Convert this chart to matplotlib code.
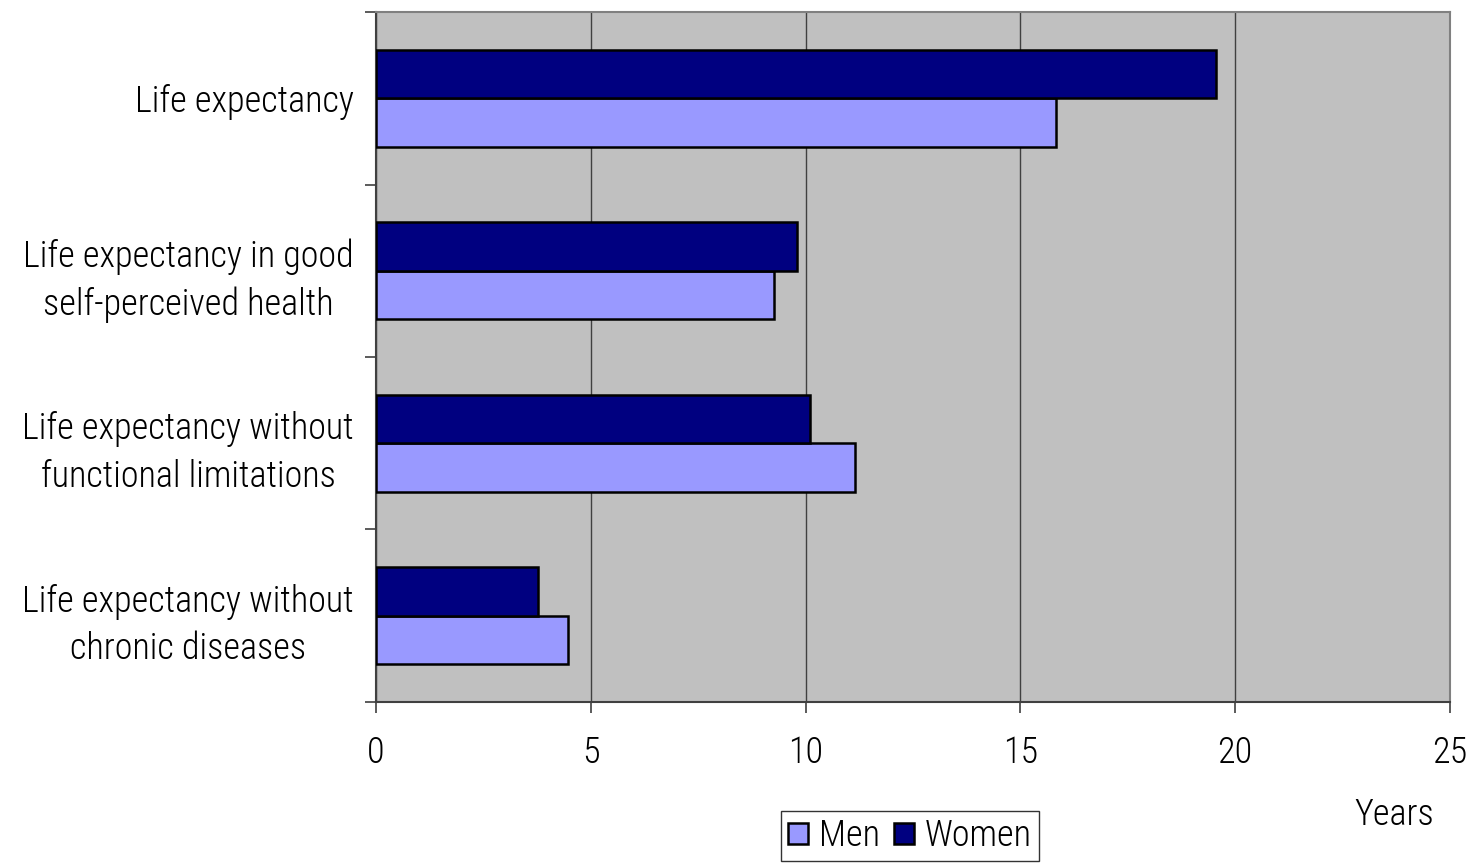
import numpy as np
from matplotlib import pyplot as plt

# Healthy life expectancy indicators, in years
categories = [
    "Life expectancy",
    "Life expectancy in good\nself-perceived health",
    "Life expectancy without\nfunctional limitations",
    "Life expectancy without\nchronic diseases",
]
men = [15.83, 9.26, 11.15, 4.47]
women = [19.55, 9.8, 10.1, 3.77]
xticks = [0, 5, 10, 15, 20, 25]


def main():
    plt.rcParams['font.family'] = ['Roboto Condensed', 'DejaVu Sans']
    plt.rcParams['font.stretch'] = 'condensed'
    plt.rcParams['font.weight'] = 'light'
    fs = 26

    fig = plt.figure(figsize=(14.71, 8.66), dpi=100)
    ax = fig.add_axes([0.2556, 0.1894, 0.7301, 0.7967])
    ax.set_facecolor('#C0C0C0')

    y = np.arange(len(categories))
    h = 0.28
    ax.barh(y + h / 2, men, height=h, color='#9999FF', edgecolor='black',
            linewidth=1.8, label='Men', zorder=3)
    ax.barh(y - h / 2, women, height=h, color='#000080', edgecolor='black',
            linewidth=1.8, label='Women', zorder=3)

    ax.set_ylim(len(categories) - 0.5, -0.5)
    ax.set_xlim(0, 25)

    # Format axes.
    ax.set_xticks(xticks)
    ax.set_xticklabels([str(t) for t in xticks], fontsize=fs)
    ax.tick_params(axis='x', direction='out', length=8, width=1.2,
                   color='#404040', pad=16)
    ax.set_yticks(y)
    ax.set_yticklabels(categories, fontsize=fs, multialignment='center',
                       linespacing=1.42)
    ax.tick_params(axis='y', which='major', length=0, pad=16)
    ax.set_yticks(np.arange(len(categories) + 1) - 0.5, minor=True)
    ax.tick_params(axis='y', which='minor', direction='out', length=8,
                   width=1.2, color='#404040')

    ax.grid(axis='x', color='#404040', linewidth=1.0, zorder=1)
    for side in ('top', 'right'):
        ax.spines[side].set_color('#808080')
        ax.spines[side].set_linewidth(1.5)
    for side in ('left', 'bottom'):
        ax.spines[side].set_color('#404040')
        ax.spines[side].set_linewidth(1.5)

    fig.text(0.948, 0.059, 'Years', fontsize=fs, ha='center', va='center')

    fig.legend(loc='upper center', bbox_to_anchor=(0.6185, 0.0635),
               ncol=2, fontsize=fs, frameon=True, fancybox=False,
               edgecolor='black', handlelength=0.55, handleheight=0.55,
               handletextpad=0.3, columnspacing=0.4, borderpad=0.2,
               borderaxespad=0)

    fig.savefig('out.png', dpi=100)


if __name__ == '__main__':
    main()
